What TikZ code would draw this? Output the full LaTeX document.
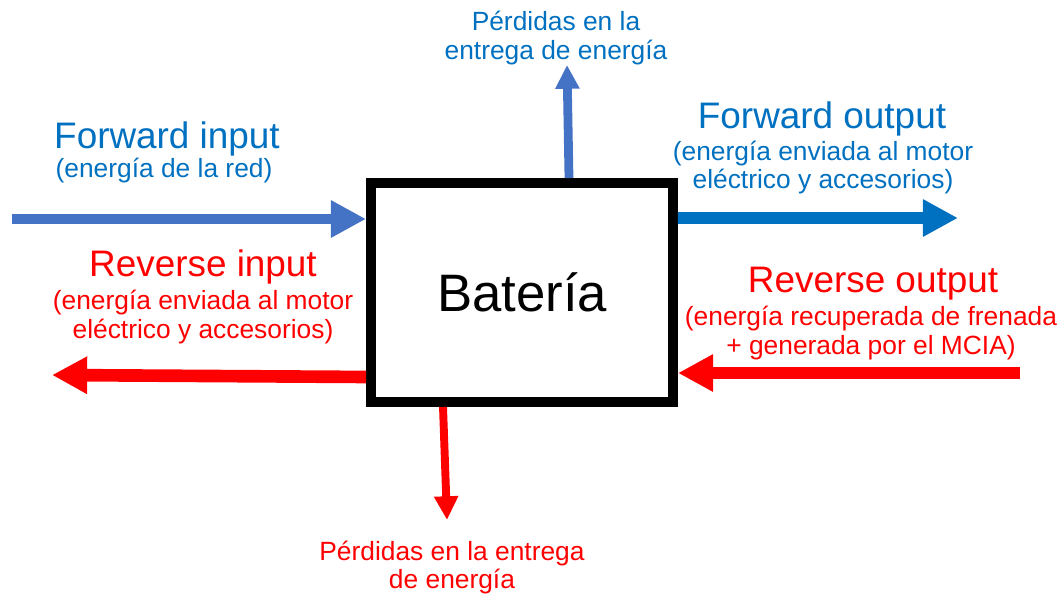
\documentclass[tikz,border=0pt]{standalone}
\usepackage{fontspec}
\setmainfont{Liberation Sans}
\usepackage{tikz}
\usetikzlibrary{arrows.meta}

\definecolor{azulA}{HTML}{4472C4}
\definecolor{azulB}{HTML}{0070C0}
\definecolor{rojo}{HTML}{FF0000}

\begin{document}
\begin{tikzpicture}[x = 0.02cm , y = -0.02cm ,
    titulo/.style = {anchor = base , inner sep = 0pt , font = \fontsize{21}{25}\selectfont},
    texto/.style = {anchor = base , inner sep = 0pt , font = \fontsize{15}{17}\selectfont},
    flecha/.style = {line width = 6.5pt , -{Triangle[length = 20pt , width = 20pt]}},
    perdida/.style = {line width = 5pt , -{Triangle[length = 13.5pt , width = 13pt]}}]
    \useasboundingbox (0,0) rectangle (1064,595);

    % Bateria
    \node[draw , line width = 5.7pt , minimum width = 6.04cm , minimum height = 4.38cm ,
          inner sep = 0pt , font = \fontsize{30}{36}\selectfont] (bat) at (522,292.5) {Batería};

    % Extremos libres
    \coordinate (fin) at (12,219);
    \coordinate (fout) at (958,218);
    \coordinate (rin) at (52,375);
    \coordinate (rout) at (1020,373);
    \coordinate (parriba) at (567,65);
    \coordinate (pabajo) at (447,520);

    % Flechas
    \draw[flecha , azulA , line width = 6.2pt] (fin) -- (fin -| bat.west);
    \draw[flecha , azulB , line width = 6.8pt] ([yshift = 1.49cm]bat.east) -- (fout);
    \draw[flecha , rojo , line width = 7.2pt] ([yshift = -1.69cm]bat.west) -- (rin);
    \draw[flecha , rojo , line width = 6.8pt] (rout) -- (rout -| bat.east);
    \draw[perdida , azulA] ([xshift = 0.94cm]bat.north) -- (parriba);
    \draw[perdida , rojo , line width = 4.5pt] ([xshift = -1.58cm]bat.south) -- (pabajo);

    % Textos
    \node[texto , azulB] (tperd1) at (556,31) {Pérdidas en la};
    \node[texto , azulB] (tperd2) at (556,59) {entrega de energía};

    \node[titulo , azulB] (tfin) at (167,148) {Forward input};
    \node[texto , azulB] (tfin1) at (164,177) {(energía de la red)};

    \node[titulo , azulB] (tfout) at (822,128) {Forward output};
    \node[texto , azulB] (tfout1) at (823,160) {(energía enviada al motor};
    \node[texto , azulB] (tfout2) at (823,188) {eléctrico y accesorios)};

    \node[titulo , rojo] (trin) at (203,276) {Reverse input};
    \node[texto , rojo] (trin1) at (203,309) {(energía enviada al motor};
    \node[texto , rojo] (trin2) at (203,338) {eléctrico y accesorios)};

    \node[titulo , rojo] (trout) at (873,292) {Reverse output};
    \node[texto , rojo] (trout1) at (871,325) {(energía recuperada de frenada};
    \node[texto , rojo] (trout2) at (871,354) {+ generada por el MCIA)};

    \node[texto , rojo] (tpab1) at (452,560) {Pérdidas en la entrega};
    \node[texto , rojo] (tpab2) at (452,588) {de energía};
\end{tikzpicture}
\end{document}
